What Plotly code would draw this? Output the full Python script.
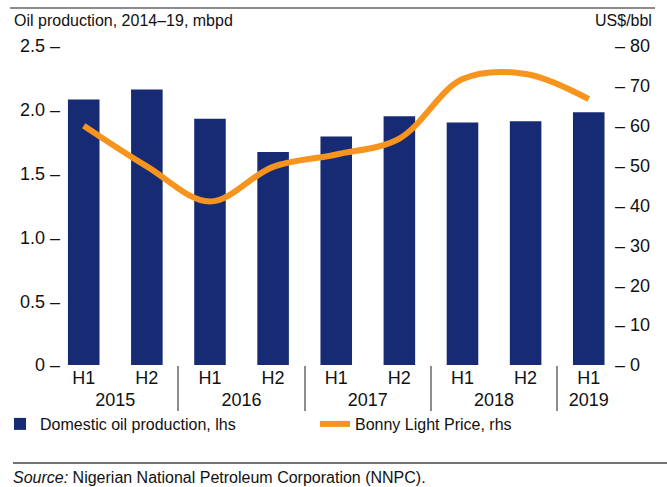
import plotly.graph_objects as go

years = ["2015", "2015", "2016", "2016", "2017", "2017", "2018", "2018", "2019"]
halves = ["H1", "H2", "H1", "H2", "H1", "H2", "H1", "H2", "H1"]
production = [2.08, 2.16, 1.93, 1.67, 1.79, 1.95, 1.90, 1.91, 1.98]
bonny_price = [60.0, 49.8, 41.0, 49.7, 52.8, 56.8, 71.7, 73.0, 66.7]

left_tickvals = [0, 0.5, 1.0, 1.5, 2.0, 2.5]
left_ticktext = ["0 \u2013", "0.5 \u2013", "1.0 \u2013", "1.5 \u2013", "2.0 \u2013", "2.5 \u2013"]
right_tickvals = [0, 10, 20, 30, 40, 50, 60, 70, 80]
right_ticktext = ["\u2013 " + str(v) for v in right_tickvals]

NAVY = "#162B74"
ORANGE = "#F7941D"
GREY = "#8C8C8C"
FONT = "Liberation Sans, Arial, sans-serif"

W, H = 667, 487
L, R, T, B = 61, 53, 46, 122
PW = W - L - R
PH = H - T - B


def px_x(px):
    return (px - L) / PW


def px_y(py):
    return (H - B - py) / PH


fig = go.Figure()
fig.add_trace(go.Bar(
    x=[years, halves], y=production, name="Domestic oil production, lhs",
    marker=dict(color=NAVY, line=dict(width=0)), yaxis="y", legend="legend",
))
fig.add_trace(go.Scatter(
    x=[years, halves], y=bonny_price, name="Bonny Light Price, rhs",
    mode="lines", line=dict(color=ORANGE, width=6, shape="spline", smoothing=1.0),
    yaxis="y2", legend="legend2",
))

legend_common = dict(
    orientation="h", xref="container", yref="container",
    xanchor="left", yanchor="top",
    font=dict(size=16, family=FONT, color="#111111"),
    bgcolor="rgba(0,0,0,0)",
)

fig.update_layout(
    width=W, height=H,
    margin=dict(l=L, r=R, t=T, b=B, autoexpand=False),
    paper_bgcolor="white", plot_bgcolor="white",
    font=dict(family=FONT, size=18, color="#111111"),
    bargap=0.5,
    showlegend=True,
    legend=dict(x=-14 / W, y=1 - 407 / H, **legend_common),
    legend2=dict(x=315 / W, y=1 - 407 / H, **legend_common),
    xaxis=dict(
        type="multicategory", showgrid=False, zeroline=False, showline=False,
        ticks="", tickfont=dict(size=18, family=FONT, color="#111111"),
        showdividers=True, dividercolor=GREY, dividerwidth=2,
        range=[-0.36, 8.4], automargin=False,
    ),
    yaxis=dict(
        range=[0, 2.5], tickvals=left_tickvals, ticktext=left_ticktext,
        showgrid=False, zeroline=False, showline=False, ticks="",
        tickfont=dict(size=18, family=FONT, color="#111111"), automargin=False,
    ),
    yaxis2=dict(
        range=[0, 80], overlaying="y", side="right",
        tickvals=right_tickvals, ticktext=right_ticktext,
        showgrid=False, zeroline=False, showline=False, ticks="",
        tickfont=dict(size=18, family=FONT, color="#111111"), automargin=False,
    ),
)

# decorative rules
fig.add_shape(type="line", xref="paper", yref="paper",
              x0=px_x(10), x1=px_x(655), y0=px_y(8), y1=px_y(8),
              line=dict(color=GREY, width=2))
fig.add_shape(type="line", xref="paper", yref="paper",
              x0=px_x(13), x1=px_x(667), y0=px_y(463), y1=px_y(463),
              line=dict(color="#444444", width=1.5))

fig.add_annotation(text="Oil production, 2014\u201319, mbpd", xref="paper", yref="paper",
                   x=px_x(12), y=px_y(21), xanchor="left", yanchor="middle",
                   showarrow=False, font=dict(size=16, family=FONT, color="#111111"))
fig.add_annotation(text="US$/bbl", xref="paper", yref="paper",
                   x=px_x(654), y=px_y(21), xanchor="right", yanchor="middle",
                   showarrow=False, font=dict(size=16, family=FONT, color="#111111"))
fig.add_annotation(text="<i>Source:</i> Nigerian National Petroleum Corporation (NNPC).",
                   xref="paper", yref="paper",
                   x=px_x(11), y=px_y(477), xanchor="left", yanchor="middle",
                   showarrow=False, font=dict(size=16, family=FONT, color="#111111"))

fig.write_html(
    "out.html",
    config={"displayModeBar": False},
    post_script="document.body.style.margin='0px';document.body.style.overflow='hidden';",
)
